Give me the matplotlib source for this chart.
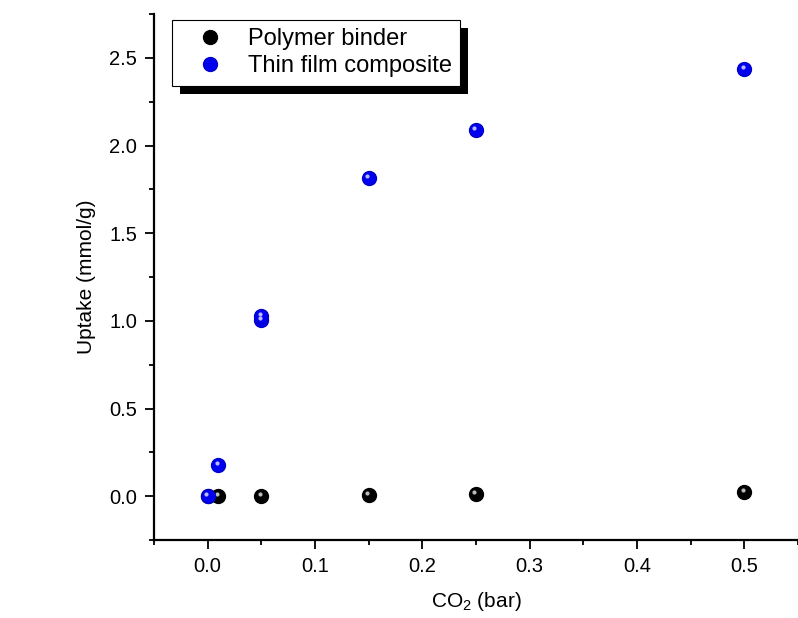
import matplotlib
matplotlib.use("Agg")
import matplotlib.pyplot as plt
import matplotlib.transforms as mtransforms
from matplotlib.patches import Rectangle
from matplotlib.ticker import MultipleLocator

plt.rcParams["font.family"] = ["Liberation Sans", "DejaVu Sans"]
plt.rcParams["mathtext.fontset"] = "custom"
plt.rcParams["mathtext.rm"] = "Liberation Sans"
plt.rcParams["mathtext.it"] = "Liberation Sans:italic"

# data
binder_p = [0.0, 0.01, 0.05, 0.15, 0.25, 0.5]
binder_uptake = [0.0, 0.0, 0.0, 0.005, 0.01, 0.025]
tfc_p = [0.0, 0.01, 0.05, 0.05, 0.15, 0.25, 0.5]
tfc_uptake = [0.0, 0.18, 1.005, 1.025, 1.815, 2.09, 2.435]

fig = plt.figure(figsize=(7.98, 6.18), dpi=100)
ax = fig.add_axes([154 / 798, 78 / 618, 644 / 798, 526 / 618])

hl = mtransforms.offset_copy(ax.transData, fig=fig, x=-1.2, y=1.5, units="points")

ax.plot(binder_p, binder_uptake, "o", ms=10, color="black", mec="black",
        label="Polymer binder", zorder=3)
ax.plot(binder_p, binder_uptake, "o", ms=3, color="#bbbbbb", mec="none",
        transform=hl, zorder=4)
ax.plot(tfc_p, tfc_uptake, "o", ms=10, color="#0000ee", mec="#0000cc",
        label="Thin film composite", zorder=5)
ax.plot(tfc_p, tfc_uptake, "o", ms=3, color="#b8b8ff", mec="none",
        transform=hl, zorder=6)

ax.set_xlim(-0.05, 0.55)
ax.set_ylim(-0.25, 2.75)
ax.xaxis.set_major_locator(MultipleLocator(0.1))
ax.xaxis.set_minor_locator(MultipleLocator(0.05))
ax.yaxis.set_major_locator(MultipleLocator(0.5))
ax.yaxis.set_minor_locator(MultipleLocator(0.25))
ax.set_xticks([0.0, 0.1, 0.2, 0.3, 0.4, 0.5])
ax.set_yticks([0.0, 0.5, 1.0, 1.5, 2.0, 2.5])

for s in ["top", "right"]:
    ax.spines[s].set_visible(False)
for s in ["left", "bottom"]:
    ax.spines[s].set_linewidth(1.6)
ax.tick_params(which="major", direction="out", length=6.5, width=1.3,
               labelsize=14.5, pad=5.5)
ax.tick_params(which="minor", direction="out", length=3.5, width=1.3)

ax.set_xlabel("CO$_2$ (bar)", fontsize=15, labelpad=10)
ax.set_ylabel("Uptake (mmol/g)", fontsize=15, labelpad=10)

leg = ax.legend(loc="upper left", bbox_to_anchor=(0.028, 0.989), borderaxespad=0,
                fontsize=17, frameon=True, fancybox=False, edgecolor="black",
                framealpha=1, handletextpad=0.3, borderpad=0.35, labelspacing=0.22,
                handlelength=2.55)
leg.get_frame().set_linewidth(0.8)

fig.canvas.draw()
bb = leg.get_window_extent()
ax.add_patch(Rectangle((bb.x0 + 8, bb.y0 - 8), bb.width, bb.height,
                       transform=None, facecolor="black", edgecolor="none",
                       zorder=4.9, clip_on=False))

fig.savefig("out.png", dpi=100)
